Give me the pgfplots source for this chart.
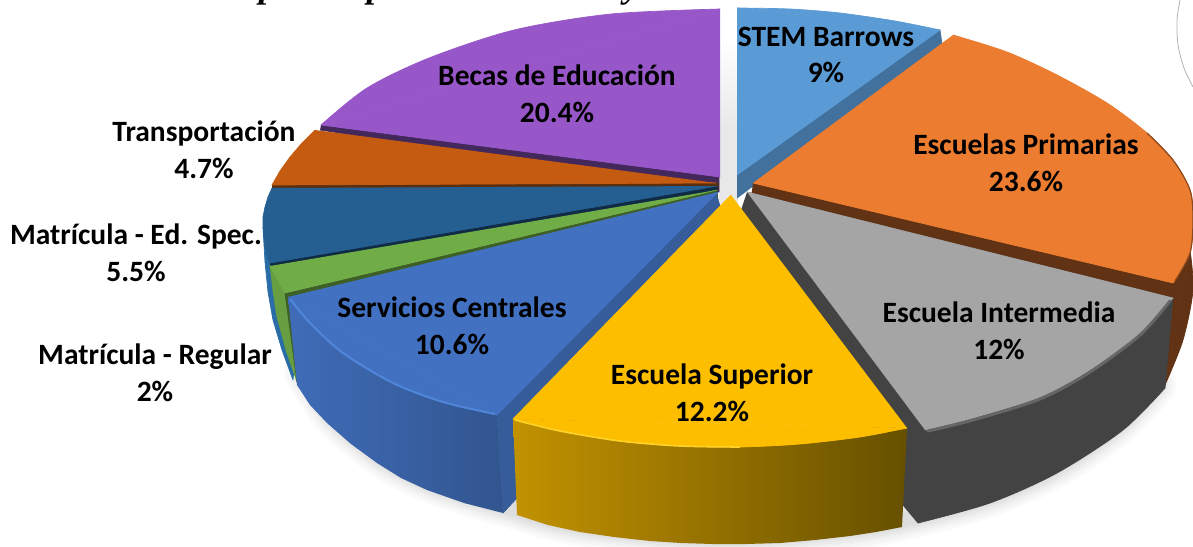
\documentclass[border=0pt]{standalone}
\usepackage{pgfplots}
\pgfplotsset{compat=1.18}
\usepackage{fontspec}
\setmainfont{Carlito}
\newfontfamily\titlefont{Liberation Serif}
\definecolor{stemT}{HTML}{5B9BD5}\definecolor{stemS}{HTML}{41719C}
\definecolor{orT}{HTML}{EB7C30}\definecolor{orS}{HTML}{613214}
\definecolor{grT}{HTML}{A5A5A5}\definecolor{grS}{HTML}{434343}
\definecolor{yeT}{HTML}{FDBE00}\definecolor{yeL}{HTML}{C29200}\definecolor{yeR}{HTML}{665000}\definecolor{yeH}{HTML}{FFD22A}
\definecolor{blT}{HTML}{4271C2}\definecolor{blL}{HTML}{3F6CB8}\definecolor{blR}{HTML}{32558F}\definecolor{blC}{HTML}{365C9A}\definecolor{blH}{HTML}{4F86DA}
\definecolor{gnT}{HTML}{70AD47}\definecolor{gnS}{HTML}{3E5F26}\definecolor{gnO}{HTML}{669E41}
\definecolor{edT}{HTML}{255E91}\definecolor{edS}{HTML}{2A6CA6}\definecolor{edD}{HTML}{0F2B45}
\definecolor{trT}{HTML}{C55A11}\definecolor{trS}{HTML}{5A2F10}
\definecolor{puT}{HTML}{9857C8}\definecolor{puS}{HTML}{43285C}
\pgfplotsset{face/.style={fill=#1,draw=#1,line width=0.7pt,line join=round,no markers},
  rim/.style={smooth,tension=0.5,fill=#1,draw=#1,line width=0.7pt,line join=round,no markers},
  shadow/.style={smooth,no markers,draw=black,draw opacity=0.018,line width=#1,line cap=round,line join=round}}
\tikzset{lab/.style={font=\fontsize{29.5}{36.5}\selectfont\bfseries,align=center,text=black,inner sep=0pt},
  frag/.style={font=\titlefont\fontsize{36}{36}\selectfont\bfseries\itshape,anchor=base,inner sep=0pt}}
\begin{document}
\begin{tikzpicture}
\useasboundingbox (0,0) rectangle (1193pt,546pt);
\begin{axis}[at={(0,0)},anchor=south west,scale only axis,width=1193pt,height=546pt,
  xmin=0,xmax=1193,ymin=0,ymax=546,y dir=reverse,hide axis,clip=false]
% soft shadow
\addplot[shadow=42pt] coordinates {(305,372)(333,415)(380,455)(430,482)(505,506)(580,525)(713,537)(850,529)(918,516)(990,496)(1057,466)(1118,424)(1155,385)};
\addplot[shadow=36pt] coordinates {(305,372)(333,415)(380,455)(430,482)(505,506)(580,525)(713,537)(850,529)(918,516)(990,496)(1057,466)(1118,424)(1155,385)};
\addplot[shadow=30pt] coordinates {(305,372)(333,415)(380,455)(430,482)(505,506)(580,525)(713,537)(850,529)(918,516)(990,496)(1057,466)(1118,424)(1155,385)};
\addplot[shadow=26pt] coordinates {(305,372)(333,415)(380,455)(430,482)(505,506)(580,525)(713,537)(850,529)(918,516)(990,496)(1057,466)(1118,424)(1155,385)};
\addplot[shadow=22pt] coordinates {(305,372)(333,415)(380,455)(430,482)(505,506)(580,525)(713,537)(850,529)(918,516)(990,496)(1057,466)(1118,424)(1155,385)};
\addplot[shadow=18pt] coordinates {(305,372)(333,415)(380,455)(430,482)(505,506)(580,525)(713,537)(850,529)(918,516)(990,496)(1057,466)(1118,424)(1155,385)};
\addplot[shadow=14pt] coordinates {(305,372)(333,415)(380,455)(430,482)(505,506)(580,525)(713,537)(850,529)(918,516)(990,496)(1057,466)(1118,424)(1155,385)};
% thin arc at the top right
\addplot[smooth,no markers,draw=black!30,line width=0.8pt] coordinates {(1180,0)(1177,20)(1178,45)(1184,68)(1193,87)};
% gap between the slices
\addplot[top color=white,bottom color=black!9,draw=none,no markers] coordinates {(719,40)(738,40)(738,130)(719,130)};
\addplot[fill=black!9,draw=none,no markers] coordinates {(719,130)(738,130)(738,205)(719,205)};
% title fragments cut by the top edge
\node[frag] at (axis cs:268,-2) {p};
\node[frag] at (axis cs:376,-2) {p};
\node[frag] at (axis cs:632,-2) {y};
% STEM Barrows
\addplot[face=stemS] coordinates {(737,175)(940,30)(942,44)(737,198)};
\addplot[face=stemT] coordinates {(737,8)(940,30)(737,175)};
\addplot[rim=stemT] coordinates {(737,8)(790,9)(840,13)(895,21)(940,30)};
% Escuelas Primarias
\addplot[face=orS] coordinates {(753,183)(1190,250)(1165,385)(1165,375)(750,205)};
\addplot[rim=orS] coordinates {(1190,250)(1193,290)(1183,340)(1165,385)};
\addplot[face=orT] coordinates {(953,35)(1173,283)(753,183)};
\addplot[rim=orT] coordinates {(953,35)(1007,52)(1057,75)(1107,103)(1147,133)(1173,160)(1190,190)(1193,220)(1190,253)(1173,283)};
\addplot[smooth,no markers,draw=orS!70!orT,line width=1.2pt] coordinates {(1147,133)(1173,160)(1190,190)(1193,220)(1190,253)(1175,281)};
% Becas de Educacion
\addplot[face=puS] coordinates {(321,125)(719,176)(719,192)(320,130)};
\addplot[face=puT] coordinates {(720,9)(321,125)(720,177)};
\addplot[rim=puT] coordinates {(720,9)(611,14)(514,30)(429,58)(367,88)(321,125)};
% Transportacion
\addplot[face=trS] coordinates {(272,185)(718,183)(718,189)(272,189)};
\addplot[face=trT] coordinates {(315,130)(302,143)(290,157)(280,171)(272,185)(716,183)};
% Matricula - Ed. Spec.
\addplot[face=edS] coordinates {(263,227)(264,245)(265,262)(268,292)(273,320)(282,350)(293,380)(300,300)(272,230)};
\addplot[face=edD] coordinates {(270,263)(717,186)(717,193)(270,268)};
\addplot[face=edT] coordinates {(272,188)(268,197)(265,207)(263,217)(263,227)(264,237)(265,247)(267,255)(270,263)(717,186)};
% Matricula - Regular
\addplot[face=gnO] coordinates {(270,265)(273,291)(277,317)(286,350)(297,382)(285,293)};
\addplot[face=gnS] coordinates {(285,293)(297,382)(300,300)(718,200)(717,190)};
\addplot[face=gnT] coordinates {(270,266)(285,293)(717,190)};
% Servicios Centrales
\addplot[face=blC] coordinates {(716,192)(497,415)(503,513)(518,497)(731,240)};
\addplot[left color=blL,right color=blR,draw=none,no markers] coordinates {(288,297)(297,385)(310,405)(327,423)(351,444)(377,463)(401,478)(427,490)(464,503)(503,513)(497,415)(443,402)(393,383)(343,353)(310,323)};
\addplot[face=blT] coordinates {(288,297)(497,415)(718,192)};
\addplot[rim=blT] coordinates {(288,297)(310,323)(343,353)(393,383)(443,402)(497,415)};
\addplot[smooth,tension=0.5,no markers,draw=blH,line width=2pt] coordinates {(290,299)(310,323)(343,353)(393,383)(443,402)(495,414)};
% Escuela Intermedia
\addplot[face=grS] coordinates {(747,192)(1173,298)(1165,388)(918,523)(903,505)(731,240)};
\addplot[rim=grS] coordinates {(1165,388)(1123,430)(1057,473)(990,503)(918,523)};
\addplot[face=grT] coordinates {(747,192)(1173,298)(925,430)};
\addplot[rim=grT] coordinates {(1173,298)(1140,333)(1090,370)(1040,397)(973,418)(925,430)};
\addplot[smooth,tension=0.5,no markers,draw=black!60,line width=3pt,line cap=round] coordinates {(1170,301)(1140,335)(1090,372)(1040,399)(973,420)(928,431)};
% Escuela Superior
\addplot[left color=yeL,right color=yeR,draw=none,no markers] coordinates {(513,419)(517,515)(548,525)(580,532)(614,537)(650,541)(681,543)(713,544)(746,544)(780,543)(815,540)(850,536)(876,532)(902,527)(907,428)(860,437)(800,444)(740,447)(680,446)(620,441)(560,431)};
\addplot[face=yeT] coordinates {(731,195)(513,419)(907,428)};
\addplot[rim=yeT] coordinates {(513,419)(560,431)(620,441)(680,446)(740,447)(800,444)(860,437)(907,428)};
\addplot[smooth,tension=0.5,no markers,draw=yeH,line width=1.6pt] coordinates {(515,420)(560,431)(620,441)(680,446)(740,447)};
% labels
\node[lab] at (axis cs:826,55) {STEM Barrows\\9\%};
\node[lab] at (axis cs:1026,163) {Escuelas Primarias\\23.6\%};
\node[lab] at (axis cs:999,331) {Escuela Intermedia\\12\%};
\node[lab] at (axis cs:712,393) {Escuela Superior\\12.2\%};
\node[lab] at (axis cs:452,326) {Servicios Centrales\\10.6\%};
\node[lab] at (axis cs:155,373) {Matrícula - Regular\\2\%};
\node[lab] at (axis cs:136,253) {Matrícula - Ed. Spec.\\5.5\%};
\node[lab] at (axis cs:204,150) {Transportación\\4.7\%};
\node[lab] at (axis cs:557,94) {Becas de Educación\\20.4\%};
\end{axis}
\end{tikzpicture}
\end{document}
